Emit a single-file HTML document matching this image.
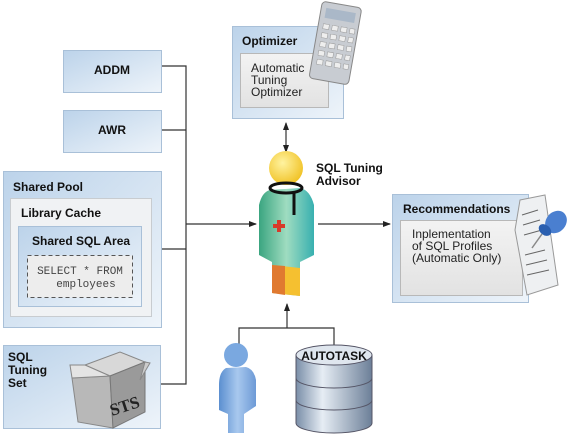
<!DOCTYPE html>
<html><head><meta charset="utf-8"><style>
html,body{margin:0;padding:0;background:#fff}
svg{display:block}
text{font-family:"Liberation Sans",sans-serif}
.b{font-weight:bold;font-size:12px;fill:#111}
.n{font-size:12px;fill:#222}
</style></head><body>
<svg width="572" height="434" viewBox="0 0 572 434" xmlns="http://www.w3.org/2000/svg">
<defs>
<linearGradient id="bx" x1="0" y1="0" x2="1" y2="1"><stop offset="0" stop-color="#bcd3ea"/><stop offset="1" stop-color="#eef4fa"/></linearGradient>
<linearGradient id="in" x1="0" y1="0" x2="0" y2="1"><stop offset="0" stop-color="#f3f3f3"/><stop offset="1" stop-color="#e2e2e2"/></linearGradient>
<radialGradient id="hd" cx="0.4" cy="0.35" r="0.7"><stop offset="0" stop-color="#fff3a0"/><stop offset="1" stop-color="#f0c020"/></radialGradient>
<linearGradient id="coat" x1="0" y1="0" x2="1" y2="0"><stop offset="0" stop-color="#3aa580"/><stop offset="0.5" stop-color="#9fdcc0"/><stop offset="1" stop-color="#38b0b0"/></linearGradient>
<linearGradient id="usr" x1="0" y1="0" x2="1" y2="0"><stop offset="0" stop-color="#5b8fd0"/><stop offset="0.5" stop-color="#a8c8ee"/><stop offset="1" stop-color="#6d9ad6"/></linearGradient>
<linearGradient id="cyl" x1="0" y1="0" x2="1" y2="0"><stop offset="0" stop-color="#7a8ea8"/><stop offset="0.35" stop-color="#e6edf4"/><stop offset="1" stop-color="#6c7f98"/></linearGradient>
<marker id="ar" markerWidth="8" markerHeight="8" refX="7" refY="4" orient="auto" markerUnits="userSpaceOnUse"><path d="M0,1 L8,4 L0,7 z" fill="#222"/></marker>
<marker id="as" markerWidth="8" markerHeight="8" refX="1" refY="4" orient="auto" markerUnits="userSpaceOnUse"><path d="M8,1 L0,4 L8,7 z" fill="#222"/></marker>
</defs>

<!-- left connectors -->
<g stroke="#333" stroke-width="1.2" fill="none">
<polyline points="161,66 186,66 186,384 160,384"/>
<line x1="161" y1="130" x2="186" y2="130"/>
<line x1="161" y1="249" x2="186" y2="249"/>
<line x1="186" y1="224" x2="256" y2="224" marker-end="url(#ar)"/>
<line x1="318" y1="224" x2="390" y2="224" marker-end="url(#ar)"/>
<line x1="286" y1="123" x2="286" y2="152" marker-end="url(#ar)" marker-start="url(#as)"/>
<polyline points="239,344 239,328 334,328 334,345"/>
<line x1="287" y1="328" x2="287" y2="304" marker-end="url(#ar)"/>
</g>

<!-- ADDM, AWR -->
<rect x="63.5" y="50.5" width="98" height="42" fill="url(#bx)" stroke="#a9c0d8"/>
<text x="112" y="74" class="b" text-anchor="middle">ADDM</text>
<rect x="63.5" y="110.5" width="98" height="42" fill="url(#bx)" stroke="#a9c0d8"/>
<text x="112" y="134" class="b" text-anchor="middle">AWR</text>

<!-- Shared pool -->
<rect x="3.5" y="171.5" width="158" height="156" fill="url(#bx)" stroke="#a9c0d8"/>
<text x="13" y="191" class="b">Shared Pool</text>
<rect x="10.5" y="198.5" width="141" height="118" fill="#f0f2f4" stroke="#c8ccd0"/>
<text x="21" y="217" class="b">Library Cache</text>
<rect x="18.5" y="226.5" width="123" height="80" fill="url(#bx)" stroke="#a9c0d8"/>
<text x="32" y="245" class="b">Shared SQL Area</text>
<rect x="27.5" y="255.5" width="105" height="42" fill="#ededed" stroke="#555" stroke-dasharray="4,3"/>
<text x="80" y="274" text-anchor="middle" style="font-family:'Liberation Mono',monospace;font-size:11px;fill:#444">SELECT * FROM</text>
<text x="86" y="287" text-anchor="middle" style="font-family:'Liberation Mono',monospace;font-size:11px;fill:#444">employees</text>

<!-- STS -->
<rect x="3.5" y="345.5" width="157" height="83" fill="url(#bx)" stroke="#a9c0d8"/>
<text x="8" y="361" class="b">SQL</text>
<text x="8" y="374" class="b">Tuning</text>
<text x="8" y="387" class="b">Set</text>
<polygon points="85,365 120,352 145,362 110,376" fill="#d8d8d8" stroke="#888"/>
<polygon points="72,378 110,376 113,428 78,422" fill="#b8b8b8" stroke="#888"/>
<polygon points="110,376 145,362 145,412 113,428" fill="#9a9a9a" stroke="#777"/>
<polygon points="70,365 85,365 110,376 72,378" fill="#e4e4e4" stroke="#888"/>
<polygon points="145,362 150,363 140,380" fill="#ccc" stroke="#888"/>
<text x="112" y="416" transform="rotate(-18 112 416)" style="font-family:'Liberation Serif',serif;font-weight:bold;font-size:17px;fill:#222">STS</text>

<!-- Optimizer -->
<rect x="232.5" y="26.5" width="111" height="92" fill="url(#bx)" stroke="#a9c0d8"/>
<text x="242" y="45" class="b">Optimizer</text>
<rect x="240.5" y="53.5" width="88" height="54" fill="url(#in)" stroke="#b8b8b8"/>
<text x="251" y="72" class="n">Automatic</text>
<text x="251" y="84" class="n">Tuning</text>
<text x="251" y="96" class="n">Optimizer</text>
<g transform="rotate(10 335 45)">
<rect x="315" y="4" width="40" height="78" rx="4" fill="#c8ccd2" stroke="#888"/>
<rect x="320" y="10" width="30" height="10" fill="#aab8c8"/>
<g fill="#eee" stroke="#999" stroke-width="0.5">
<rect x="320" y="26" width="6" height="5"/><rect x="329" y="26" width="6" height="5"/><rect x="338" y="26" width="6" height="5"/><rect x="347" y="26" width="5" height="5"/>
<rect x="320" y="35" width="6" height="5"/><rect x="329" y="35" width="6" height="5"/><rect x="338" y="35" width="6" height="5"/><rect x="347" y="35" width="5" height="5"/>
<rect x="320" y="44" width="6" height="5"/><rect x="329" y="44" width="6" height="5"/><rect x="338" y="44" width="6" height="5"/><rect x="347" y="44" width="5" height="5"/>
<rect x="320" y="53" width="6" height="5"/><rect x="329" y="53" width="6" height="5"/><rect x="338" y="53" width="6" height="5"/><rect x="347" y="53" width="5" height="5"/>
<rect x="320" y="62" width="6" height="5"/><rect x="329" y="62" width="6" height="5"/><rect x="338" y="62" width="6" height="5"/><rect x="347" y="62" width="5" height="5"/>
</g></g>

<!-- Advisor -->
<circle cx="286" cy="168" r="17" fill="url(#hd)"/>
<path d="M270,190 Q262,192 259,205 L259,255 L272,262 L272,293 L300,296 L300,262 L314,255 L314,205 Q310,190 300,188 Z" fill="url(#coat)"/>
<path d="M272,265 L300,268 L300,296 L272,293 Z" fill="#f5c030"/>
<path d="M272,265 L285,266 L285,295 L272,293 Z" fill="#e07a30"/>
<ellipse cx="286" cy="188" rx="16" ry="5" fill="none" stroke="#111" stroke-width="3"/>
<line x1="294" y1="192" x2="294" y2="215" stroke="#111" stroke-width="3"/>
<rect x="277" y="220" width="4" height="12" fill="#d83a2a"/><rect x="273" y="224" width="12" height="4" fill="#d83a2a"/>
<text x="316" y="172" class="b">SQL Tuning</text>
<text x="316" y="185" class="b">Advisor</text>

<!-- Recommendations -->
<rect x="392.5" y="194.5" width="136" height="108" fill="url(#bx)" stroke="#a9c0d8"/>
<text x="403" y="213" class="b">Recommendations</text>
<rect x="400.5" y="220.5" width="122" height="75" fill="url(#in)" stroke="#b8b8b8"/>
<text x="412" y="238" class="n">Inplementation</text>
<text x="412" y="250" class="n">of SQL Profiles</text>
<text x="412" y="262" class="n">(Automatic Only)</text>
<polygon points="520,200 545,195 558,285 527,295 515,230" fill="#eef0f2" stroke="#999"/>
<g stroke="#666" stroke-width="1"><line x1="522" y1="215" x2="538" y2="210"/><line x1="523" y1="225" x2="540" y2="220"/><line x1="524" y1="235" x2="542" y2="230"/><line x1="525" y1="255" x2="545" y2="250"/><line x1="526" y1="265" x2="547" y2="260"/><line x1="527" y1="275" x2="549" y2="270"/></g>
<ellipse cx="556" cy="222" rx="10" ry="12" transform="rotate(40 556 222)" fill="#4a7fd0"/>
<ellipse cx="545" cy="230" rx="7" ry="5" transform="rotate(40 545 230)" fill="#2a5fb0"/>
<line x1="542" y1="234" x2="532" y2="248" stroke="#888" stroke-width="1.5"/>

<!-- User -->
<circle cx="236" cy="355" r="12" fill="#7aa8e0"/>
<path d="M226,368 Q219,372 219,385 L219,410 L228,414 L228,433 L244,433 L244,414 L256,406 L256,380 Q254,369 246,367 Z" fill="url(#usr)"/>

<!-- DB -->
<path d="M296,355 L296,423 A38,10 0 0 0 372,423 L372,355" fill="url(#cyl)" stroke="#556"/>
<path d="M296,378 A38,10 0 0 0 372,378 M296,400 A38,10 0 0 0 372,400" fill="none" stroke="#556"/>
<ellipse cx="334" cy="355" rx="38" ry="10" fill="#dfe6ee" stroke="#556"/>
<text x="334" y="360" class="b" text-anchor="middle">AUTOTASK</text>
</svg>
</body></html>
